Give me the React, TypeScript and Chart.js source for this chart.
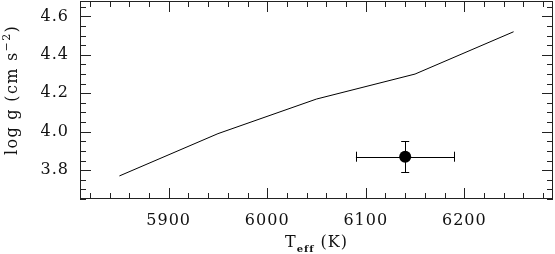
import React, { useEffect, useRef } from 'react';
import { Chart, registerables } from 'chart.js';

Chart.register(...registerables);

// Model track
const modelTeff = [5850, 5950, 6050, 6150, 6250];
const modelLogg = [3.77, 3.99, 4.17, 4.3, 4.52];
// Observed star
const starTeff = [6140];
const starLogg = [3.87];
const starTeffErr = [50];
const starLoggErr = [0.08];
// Axes
const xRange = [5810, 6290];
const yRange = [3.65, 4.68];
const xMajorTicks = [5900, 6000, 6100, 6200];
const yMajorTicks = [3.8, 4.0, 4.2, 4.4, 4.6];
const xMinorStep = 20;
const yMinorStep = 0.05;
const xTitleMain = 'T';
const xTitleSub = 'eff';
const xTitleUnit = '(K)';
const yTitleMain = 'log g (cm s';
const yTitleSup = '\u22122';
const yTitleEnd = ')';

const FONT = '"DejaVu Serif", serif';

const spacingPlugin = {
  id: 'spacingPlugin',
  beforeDraw(chart: any) {
    (chart.ctx as any).letterSpacing = '1px';
  },
  afterDraw(chart: any) {
    (chart.ctx as any).letterSpacing = '0px';
  },
};

const framePlugin = {
  id: 'framePlugin',
  afterDatasetsDraw(chart: any) {
    const ctx = chart.ctx as CanvasRenderingContext2D;
    const { left, right, top, bottom } = chart.chartArea;
    const xs = chart.scales.x;
    const ys = chart.scales.y;
    ctx.save();
    (ctx as any).letterSpacing = '0px';
    ctx.strokeStyle = '#000';
    ctx.lineWidth = 1;
    // error bars
    for (let i = 0; i < starTeff.length; i++) {
      const x0 = xs.getPixelForValue(starTeff[i] - starTeffErr[i]);
      const x1 = xs.getPixelForValue(starTeff[i] + starTeffErr[i]);
      const y0 = ys.getPixelForValue(starLogg[i] - starLoggErr[i]);
      const y1 = ys.getPixelForValue(starLogg[i] + starLoggErr[i]);
      const cx = xs.getPixelForValue(starTeff[i]);
      const cy = ys.getPixelForValue(starLogg[i]);
      ctx.beginPath();
      ctx.moveTo(x0, Math.round(cy) + 0.5);
      ctx.lineTo(x1, Math.round(cy) + 0.5);
      ctx.moveTo(Math.round(cx) + 0.5, y0);
      ctx.lineTo(Math.round(cx) + 0.5, y1);
      ctx.moveTo(Math.round(x0) + 0.5, cy - 5);
      ctx.lineTo(Math.round(x0) + 0.5, cy + 5);
      ctx.moveTo(Math.round(x1) + 0.5, cy - 5);
      ctx.lineTo(Math.round(x1) + 0.5, cy + 5);
      ctx.moveTo(cx - 4, Math.round(y0) + 0.5);
      ctx.lineTo(cx + 4, Math.round(y0) + 0.5);
      ctx.moveTo(cx - 4, Math.round(y1) + 0.5);
      ctx.lineTo(cx + 4, Math.round(y1) + 0.5);
      ctx.stroke();
    }
    // frame
    ctx.strokeStyle = '#222';
    ctx.strokeRect(Math.round(left) + 0.5, Math.round(top) + 0.5, Math.round(right - left) - 1, Math.round(bottom - top) - 1);
    // ticks
    const major = 11;
    const minor = 6;
    ctx.beginPath();
    const xStart = Math.ceil(xRange[0] / xMinorStep) * xMinorStep;
    for (let v = xStart; v <= xRange[1] + 1e-9; v += xMinorStep) {
      const isMajor = Math.abs(v / 100 - Math.round(v / 100)) < 1e-6;
      const len = isMajor ? major : minor;
      const px = Math.round(xs.getPixelForValue(v)) + 0.5;
      ctx.moveTo(px, bottom);
      ctx.lineTo(px, bottom - len);
      ctx.moveTo(px, top);
      ctx.lineTo(px, top + len);
    }
    const yStart = Math.ceil(yRange[0] / yMinorStep - 1e-6);
    for (let k = yStart; k * yMinorStep <= yRange[1] + 1e-9; k++) {
      const v = k * yMinorStep;
      const isMajor = k % 4 === 0;
      const len = isMajor ? major : minor;
      const py = Math.round(ys.getPixelForValue(v)) + 0.5;
      ctx.moveTo(left, py);
      ctx.lineTo(left + len, py);
      ctx.moveTo(right, py);
      ctx.lineTo(right - len, py);
    }
    ctx.stroke();

    // x title
    ctx.fillStyle = '#111';
    ctx.textBaseline = 'alphabetic';
    ctx.textAlign = 'left';
    const mainFont = '16px ' + FONT;
    const subFont = 'bold 10px ' + FONT;
    (ctx as any).letterSpacing = '1px';
    ctx.font = mainFont;
    const wT = ctx.measureText(xTitleMain).width;
    const wU = ctx.measureText(xTitleUnit).width;
    ctx.font = subFont;
    const wS = ctx.measureText(xTitleSub).width;
    const gap = 6;
    const total = wT + wS + gap + wU;
    let x = (left + right) / 2 - total / 2;
    const base = 247;
    ctx.font = mainFont;
    ctx.fillText(xTitleMain, x, base);
    x += wT;
    ctx.font = subFont;
    ctx.fillText(xTitleSub, x, base + 5);
    x += wS + gap;
    ctx.font = mainFont;
    ctx.fillText(xTitleUnit, x, base);

    // y title
    ctx.save();
    ctx.translate(17, 90);
    ctx.rotate(-Math.PI / 2);
    const supFont = '11px ' + FONT;
    const target = 130;
    (ctx as any).letterSpacing = '0px';
    ctx.font = mainFont;
    const b1 = ctx.measureText(yTitleMain).width;
    const b3 = ctx.measureText(yTitleEnd).width;
    ctx.font = supFont;
    const b2 = ctx.measureText(yTitleSup).width;
    const nChars = yTitleMain.length + yTitleSup.length + yTitleEnd.length;
    const ls = Math.max(0, (target - (b1 + b2 + b3)) / nChars);
    (ctx as any).letterSpacing = ls.toFixed(2) + 'px';
    ctx.font = mainFont;
    const w1 = ctx.measureText(yTitleMain).width;
    const w3 = ctx.measureText(yTitleEnd).width;
    ctx.font = supFont;
    const w2 = ctx.measureText(yTitleSup).width;
    let yx = -(w1 + w2 + w3) / 2;
    ctx.font = mainFont;
    ctx.fillText(yTitleMain, yx, 0);
    yx += w1;
    ctx.font = supFont;
    ctx.fillText(yTitleSup, yx, -7);
    yx += w2;
    ctx.font = mainFont;
    ctx.fillText(yTitleEnd, yx, 0);
    ctx.restore();

    ctx.restore();
  },
};

export default function App() {
  const ref = useRef<HTMLCanvasElement | null>(null);
  useEffect(() => {
    if (!ref.current) return;
    const chart = new Chart(ref.current, {
      type: 'scatter',
      data: {
        datasets: [
          {
            type: 'line',
            data: modelTeff.map((t, i) => ({ x: t, y: modelLogg[i] })),
            borderColor: '#000',
            borderWidth: 1,
            pointRadius: 0,
            fill: false,
            tension: 0,
          },
          {
            type: 'scatter',
            data: starTeff.map((t, i) => ({ x: t, y: starLogg[i] })),
            backgroundColor: '#000',
            borderColor: '#000',
            pointRadius: 6,
            borderWidth: 0,
          },
        ],
      },
      options: {
        animation: false,
        responsive: false,
        devicePixelRatio: 1,
        events: [],
        layout: { autoPadding: false, padding: { top: 1, right: 2, left: 0, bottom: 0 } },
        plugins: { legend: { display: false }, tooltip: { enabled: false } },
        scales: {
          x: {
            type: 'linear',
            min: xRange[0],
            max: xRange[1],
            grid: { display: false, drawTicks: false },
            border: { display: false },
            afterBuildTicks: (s: any) => {
              s.ticks = xMajorTicks.map((v) => ({ value: v }));
            },
            afterFit: (s: any) => {
              s.height = 55;
              s.paddingLeft = 0;
              s.paddingRight = 0;
            },
            ticks: {
              color: '#111',
              font: { family: FONT, size: 16 },
              padding: 12,
              maxRotation: 0,
              autoSkip: false,
              callback: (v: any) => String(v),
            },
          },
          y: {
            type: 'linear',
            min: yRange[0],
            max: yRange[1],
            grid: { display: false, drawTicks: false },
            border: { display: false },
            afterBuildTicks: (s: any) => {
              s.ticks = yMajorTicks.map((v) => ({ value: v }));
            },
            afterFit: (s: any) => {
              s.width = 80;
              s.paddingTop = 0;
              s.paddingBottom = 0;
            },
            ticks: {
              color: '#111',
              font: { family: FONT, size: 16 },
              padding: 11,
              autoSkip: false,
              callback: (v: any) => Number(v).toFixed(1),
            },
          },
        },
      },
      plugins: [spacingPlugin, framePlugin],
    } as any);
    return () => chart.destroy();
  }, []);
  return (
    <div style={{ position: 'fixed', left: 0, top: 0, width: 555, height: 254, background: '#fff' }}>
      <canvas ref={ref} width={555} height={254} style={{ display: 'block' }} />
    </div>
  );
}
